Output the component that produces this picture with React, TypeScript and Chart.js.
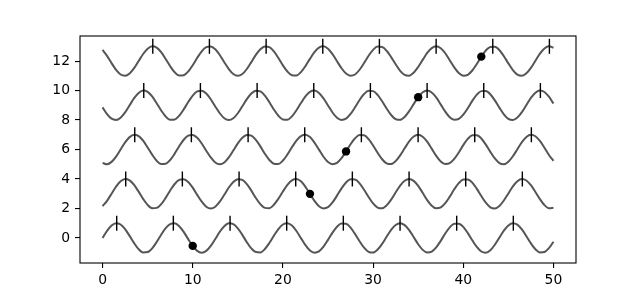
import React, { useEffect, useRef } from "react";
import { Chart, registerables } from "chart.js";

Chart.register(...registerables);

const xs = [
  0, 0.5, 1, 1.5, 2, 2.5, 3, 3.5, 4, 4.5, 5, 5.5, 6, 6.5, 7, 7.5, 8, 8.5, 9, 9.5,
  10, 10.5, 11, 11.5, 12, 12.5, 13, 13.5, 14, 14.5, 15, 15.5, 16, 16.5, 17, 17.5, 18, 18.5, 19, 19.5,
  20, 20.5, 21, 21.5, 22, 22.5, 23, 23.5, 24, 24.5, 25, 25.5, 26, 26.5, 27, 27.5, 28, 28.5, 29, 29.5,
  30, 30.5, 31, 31.5, 32, 32.5, 33, 33.5, 34, 34.5, 35, 35.5, 36, 36.5, 37, 37.5, 38, 38.5, 39, 39.5,
  40, 40.5, 41, 41.5, 42, 42.5, 43, 43.5, 44, 44.5, 45, 45.5, 46, 46.5, 47, 47.5, 48, 48.5, 49, 49.5, 50,
];

const wave0 = [
  0, 0.48, 0.84, 1.0, 0.91, 0.6, 0.14, -0.35, -0.76, -0.98, -0.96, -0.71, -0.28, 0.22, 0.66, 0.94, 0.99, 0.8, 0.41, -0.08,
  -0.54, -0.88, -1.0, -0.88, -0.54, -0.07, 0.42, 0.8, 0.99, 0.94, 0.65, 0.21, -0.29, -0.71, -0.96, -0.98, -0.75, -0.34, 0.15, 0.6,
  0.91, 1.0, 0.84, 0.47, -0.01, -0.49, -0.85, -1.0, -0.91, -0.59, -0.13, 0.36, 0.76, 0.98, 0.96, 0.7, 0.27, -0.22, -0.66, -0.94,
  -0.99, -0.79, -0.4, 0.08, 0.55, 0.88, 1.0, 0.87, 0.53, 0.06, -0.43, -0.81, -0.99, -0.93, -0.64, -0.2, 0.3, 0.72, 0.96, 0.97,
  0.75, 0.33, -0.16, -0.61, -0.92, -1.0, -0.83, -0.46, 0.02, 0.5, 0.85, 1.0, 0.9, 0.58, 0.12, -0.37, -0.77, -0.98, -0.95, -0.69, -0.26,
];

const wave1 = [
  2.16, 2.52, 3, 3.48, 3.84, 4, 3.91, 3.6, 3.14, 2.65, 2.24, 2.02, 2.04, 2.29, 2.72, 3.22, 3.66, 3.94, 3.99, 3.8,
  3.41, 2.92, 2.46, 2.12, 2, 2.12, 2.46, 2.93, 3.42, 3.8, 3.99, 3.94, 3.65, 3.21, 2.71, 2.29, 2.04, 2.02, 2.25, 2.66,
  3.15, 3.6, 3.91, 4, 3.84, 3.47, 2.99, 2.51, 2.15, 2, 2.09, 2.41, 2.87, 3.36, 3.76, 3.98, 3.96, 3.7, 3.27, 2.78,
  2.34, 2.06, 2.01, 2.21, 2.6, 3.08, 3.55, 3.88, 4, 3.87, 3.53, 3.06, 2.57, 2.19, 2.01, 2.07, 2.36, 2.8, 3.3, 3.72,
  3.96, 3.97, 3.75, 3.33, 2.84, 2.39, 2.08, 2, 2.17, 2.54, 3.02, 3.5, 3.85, 4, 3.9, 3.58, 3.12, 2.63, 2.23, 2.02, 2.05,
];

const wave2 = [
  5.09, 5.0, 5.16, 5.52, 6, 6.48, 6.84, 7, 6.91, 6.6, 6.14, 5.65, 5.24, 5.02, 5.04, 5.29, 5.72, 6.22, 6.66, 6.94,
  6.99, 6.8, 6.41, 5.92, 5.46, 5.12, 5, 5.12, 5.46, 5.93, 6.42, 6.8, 6.99, 6.94, 6.65, 6.21, 5.71, 5.29, 5.04, 5.02,
  5.25, 5.66, 6.15, 6.6, 6.91, 7, 6.84, 6.47, 5.99, 5.51, 5.15, 5, 5.09, 5.41, 5.87, 6.36, 6.76, 6.98, 6.96, 6.7,
  6.27, 5.78, 5.34, 5.06, 5.01, 5.21, 5.6, 6.08, 6.55, 6.88, 7, 6.87, 6.53, 6.06, 5.57, 5.19, 5.01, 5.07, 5.36, 5.8,
  6.3, 6.72, 6.96, 6.97, 6.75, 6.33, 5.84, 5.39, 5.08, 5, 5.17, 5.54, 6.02, 6.5, 6.85, 7, 6.9, 6.58, 6.12, 5.63, 5.23,
];

const wave3 = [
  8.86, 8.4, 8.09, 8.0, 8.16, 8.52, 9, 9.48, 9.84, 10, 9.91, 9.6, 9.14, 8.65, 8.24, 8.02, 8.04, 8.29, 8.72, 9.22,
  9.66, 9.94, 9.99, 9.8, 9.41, 8.92, 8.46, 8.12, 8, 8.12, 8.46, 8.93, 9.42, 9.8, 9.99, 9.94, 9.65, 9.21, 8.71, 8.29,
  8.04, 8.02, 8.25, 8.66, 9.15, 9.6, 9.91, 10, 9.84, 9.47, 8.99, 8.51, 8.15, 8, 8.09, 8.41, 8.87, 9.36, 9.76, 9.98,
  9.96, 9.7, 9.27, 8.78, 8.34, 8.06, 8.01, 8.21, 8.6, 9.08, 9.55, 9.88, 10, 9.87, 9.53, 9.06, 8.57, 8.19, 8.01, 8.07,
  8.36, 8.8, 9.3, 9.72, 9.96, 9.97, 9.75, 9.33, 8.84, 8.39, 8.08, 8, 8.17, 8.54, 9.02, 9.5, 9.85, 10, 9.9, 9.58, 9.12,
];

const wave4 = [
  12.76, 12.35, 11.86, 11.4, 11.09, 11.0, 11.16, 11.52, 12, 12.48, 12.84, 13, 12.91, 12.6, 12.14, 11.65, 11.24, 11.02, 11.04, 11.29,
  11.72, 12.22, 12.66, 12.94, 12.99, 12.8, 12.41, 11.92, 11.46, 11.12, 11, 11.12, 11.46, 11.93, 12.42, 12.8, 12.99, 12.94, 12.65, 12.21,
  11.71, 11.29, 11.04, 11.02, 11.25, 11.66, 12.15, 12.6, 12.91, 13, 12.84, 12.47, 11.99, 11.51, 11.15, 11, 11.09, 11.41, 11.87, 12.36,
  12.76, 12.98, 12.96, 12.7, 12.27, 11.78, 11.34, 11.06, 11.01, 11.21, 11.6, 12.08, 12.55, 12.88, 13, 12.87, 12.53, 12.06, 11.57, 11.19,
  11.01, 11.07, 11.36, 11.8, 12.3, 12.72, 12.96, 12.97, 12.75, 12.33, 11.84, 11.39, 11.08, 11, 11.17, 11.54, 12.02, 12.5, 12.85, 13, 12.9,
];

const waves = [wave0, wave1, wave2, wave3, wave4];

// peak positions (x) and heights (y) of each wave
const peakX0 = [1.57, 7.85, 14.14, 20.42, 26.7, 32.99, 39.27, 45.55];
const peakX1 = [2.57, 8.85, 15.14, 21.42, 27.7, 33.99, 40.27, 46.55];
const peakX2 = [3.57, 9.85, 16.14, 22.42, 28.7, 34.99, 41.27, 47.55];
const peakX3 = [4.57, 10.85, 17.14, 23.42, 29.7, 35.99, 42.27, 48.55];
const peakX4 = [5.57, 11.85, 18.14, 24.42, 30.7, 36.99, 43.27, 49.55];
const peakXs = [peakX0, peakX1, peakX2, peakX3, peakX4];
const peakY = [1, 4, 7, 10, 13];

// highlighted dots
const dotX = [10, 23, 27, 35, 42];
const dotY = [-0.54, 2.99, 5.87, 9.55, 12.3];

const xTicks = [0, 10, 20, 30, 40, 50];
const yTicks = [0, 2, 4, 6, 8, 10, 12];

const LINE_COLOR = "#555555";

export default function App() {
  const ref = useRef<HTMLCanvasElement | null>(null);

  useEffect(() => {
    document.body.style.margin = "0";
    const canvas = ref.current;
    if (!canvas) return;

    const datasets: any[] = [];
    waves.forEach((w, i) => {
      datasets.push({
        label: "wave" + i,
        data: w.map((y, k) => ({ x: xs[k], y })),
        borderColor: LINE_COLOR,
        borderWidth: 2,
        pointRadius: 0,
        tension: 0,
        cubicInterpolationMode: "monotone",
        fill: false,
        order: 2,
      });
    });
    peakXs.forEach((px, i) => {
      datasets.push({
        label: "peaks" + i,
        data: px.map((x) => ({ x, y: peakY[i] })),
        showLine: false,
        pointStyle: "line",
        rotation: 90,
        pointRadius: 7.5,
        pointBorderWidth: 1.4,
        pointBorderColor: "#000000",
        pointBackgroundColor: "#000000",
        order: 1,
      });
    });
    datasets.push({
      label: "dots",
      data: dotX.map((x, k) => ({ x, y: dotY[k] })),
      showLine: false,
      pointStyle: "circle",
      pointRadius: 4.2,
      pointBorderWidth: 0,
      pointBackgroundColor: "#000000",
      pointBorderColor: "#000000",
      order: 0,
    });

    const framePlugin = {
      id: "frame",
      afterDatasetsDraw(chart: any) {
        const { ctx, chartArea } = chart;
        ctx.save();
        ctx.strokeStyle = "#000";
        ctx.lineWidth = 1.1;
        ctx.strokeRect(chartArea.left, chartArea.top, chartArea.right - chartArea.left, chartArea.bottom - chartArea.top);
        ctx.restore();
      },
    };

    const font = { family: "'DejaVu Sans', sans-serif", size: 13.9 };

    const chart = new Chart(canvas, {
      type: "line",
      data: { datasets },
      plugins: [framePlugin],
      options: {
        animation: false,
        responsive: false,
        maintainAspectRatio: false,
        layout: { padding: { left: 0, top: 36, right: 64, bottom: 0 } },
        plugins: { legend: { display: false }, tooltip: { enabled: false } },
        elements: { line: { borderCapStyle: "butt" } },
        scales: {
          x: {
            type: "linear",
            min: -2.5,
            max: 52.5,
            afterBuildTicks: (s: any) => {
              s.ticks = xTicks.map((v) => ({ value: v }));
            },
            afterFit: (s: any) => {
              s.height = 33;
            },
            grid: { drawOnChartArea: false, drawTicks: true, tickLength: 5, color: "#000", lineWidth: 1.1 },
            border: { display: false },
            ticks: { padding: 4, color: "#000", font, maxRotation: 0 },
          },
          y: {
            type: "linear",
            min: -1.7,
            max: 13.7,
            afterBuildTicks: (s: any) => {
              s.ticks = yTicks.map((v) => ({ value: v }));
            },
            afterFit: (s: any) => {
              s.width = 80;
            },
            grid: { drawOnChartArea: false, drawTicks: true, tickLength: 5, color: "#000", lineWidth: 1.1 },
            border: { display: false },
            ticks: { padding: 5, color: "#000", font },
          },
        },
      },
    } as any);

    return () => chart.destroy();
  }, []);

  return (
    <div style={{ width: 640, height: 296, background: "#fff" }}>
      <canvas ref={ref} width={640} height={296} style={{ display: "block" }} />
    </div>
  );
}
